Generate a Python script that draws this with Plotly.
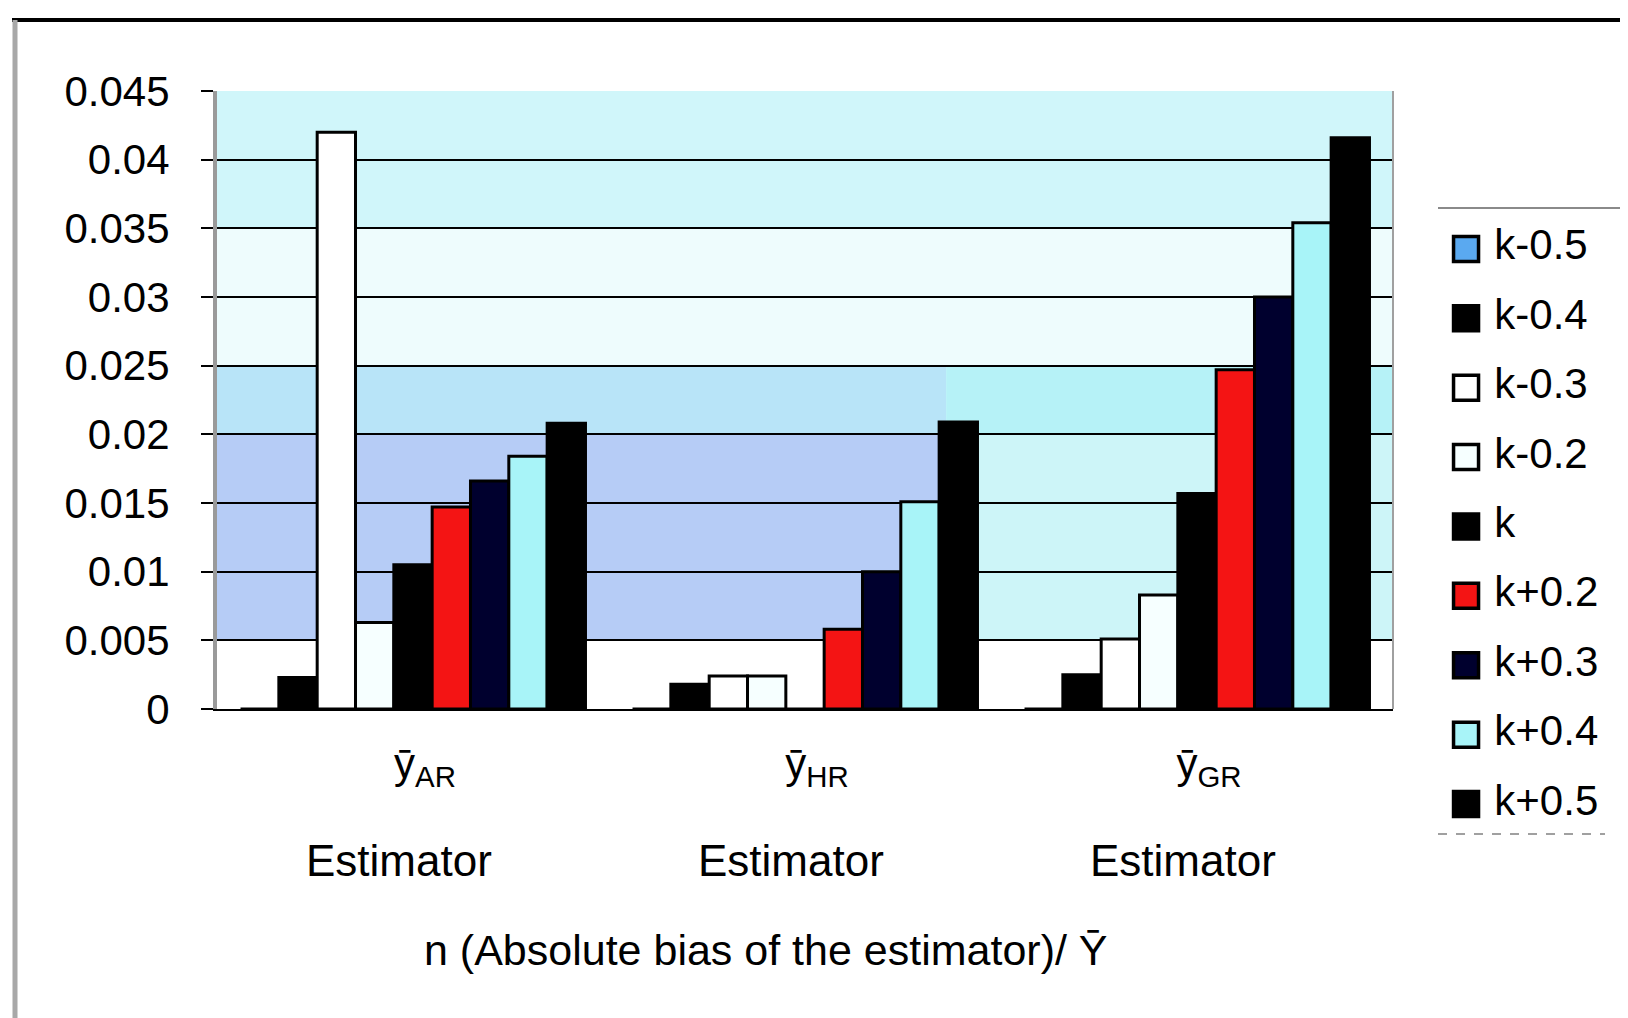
import plotly.graph_objects as go

# categories (estimators)
estimators = ["ȳ<sub>AR</sub>", "ȳ<sub>HR</sub>", "ȳ<sub>GR</sub>"]

# one list per k value (AR, HR, GR)
k_m05 = [0.0, 0.0, 0.0]
k_m04 = [0.0023, 0.0018, 0.0025]
k_m03 = [0.0420, 0.0024, 0.0051]
k_m02 = [0.0063, 0.0024, 0.0083]
k_0 = [0.0105, 0.0, 0.0157]
k_p02 = [0.0147, 0.0058, 0.0247]
k_p03 = [0.0166, 0.0100, 0.0300]
k_p04 = [0.0184, 0.0151, 0.0354]
k_p05 = [0.0208, 0.0209, 0.0416]

series_names = ["k-0.5", "k-0.4", "k-0.3", "k-0.2", "k", "k+0.2", "k+0.3", "k+0.4", "k+0.5"]
series_values = [k_m05, k_m04, k_m03, k_m02, k_0, k_p02, k_p03, k_p04, k_p05]
series_colors = ["#5aa9f0", "#000000", "#ffffff", "#f6ffff", "#000000",
                 "#f41414", "#00002e", "#a8f4f8", "#000000"]

y_ticks = [0, 0.005, 0.01, 0.015, 0.02, 0.025, 0.03, 0.035, 0.04, 0.045]
y_ticktext = ["0", "0.005", "0.01", "0.015", "0.02", "0.025", "0.03", "0.035", "0.04", "0.045"]

FONT = "Liberation Sans, Arial, sans-serif"

# page body adds 8px, so the figure is 8px smaller and everything is placed 8px up/left
W, H = 1620, 1010
ML, MR, MT, MB = 209, 12, 12, 12
PW = W - ML - MR
PH = H - MT - MB


def px(xp):
    return (xp - 8 - ML) / PW


def py(yp):
    return (H - MB - (yp - 8)) / PH


fig = go.Figure()

for name, vals, col in zip(series_names, series_values, series_colors):
    fig.add_trace(go.Bar(
        x=estimators,
        y=vals,
        name=name,
        marker=dict(color=col, line=dict(color="black", width=3)),
        showlegend=False,
    ))

# legend drawn as a marker column on its own small axis
fig.add_trace(go.Scatter(
    x=[0] * len(series_names),
    y=series_names,
    xaxis="x2",
    yaxis="y2",
    mode="markers+text",
    text=[" " + n for n in series_names],
    textposition="middle right",
    textfont=dict(family=FONT, size=42, color="black"),
    marker=dict(symbol="square", size=25, color=series_colors,
                line=dict(color="black", width=3.5)),
    showlegend=False,
    hoverinfo="skip",
    cliponaxis=False,
))

# scanned background texture, roughly
bands = [
    (0, 1, 0, 0.045, "#e6fbfc"),
    (0, 1, 0.035, 0.045, "#d0f6fa"),
    (0, 1, 0.025, 0.035, "#eefcfd"),
    (0, 0.62, 0.02, 0.025, "#b8e4f8"),
    (0.62, 1, 0.02, 0.025, "#b6f2f7"),
    (0, 0.62, 0.005, 0.02, "#b6ccf6"),
    (0.62, 1, 0.005, 0.02, "#cdf5f8"),
    (0, 1, 0, 0.005, "#ffffff"),
]
for x0, x1, y0, y1, c in bands:
    fig.add_shape(type="rect", xref="x domain", yref="y", x0=x0, x1=x1, y0=y0, y1=y1,
                  fillcolor=c, line=dict(width=0), layer="below")

# right edge of plot area
fig.add_shape(type="line", xref="x domain", yref="y domain", x0=1, x1=1, y0=0, y1=1,
              line=dict(color="#a0a0a0", width=2))
# legend box top/bottom rules
fig.add_shape(type="line", xref="paper", yref="paper", x0=px(1438), x1=1.03, y0=py(208), y1=py(208),
              line=dict(color="#8a8a8a", width=2))
fig.add_shape(type="line", xref="paper", yref="paper", x0=px(1438), x1=px(1605), y0=py(834), y1=py(834),
              line=dict(color="#a0a0a0", width=2, dash="dash"))
# outer frame (top and left)
fig.add_shape(type="line", xref="paper", yref="paper", x0=px(12), x1=1.03, y0=py(20), y1=py(20),
              line=dict(color="black", width=4))
fig.add_shape(type="line", xref="paper", yref="paper", x0=px(15), x1=px(15), y0=py(20), y1=-0.05,
              line=dict(color="#a8a8a8", width=5))

for est in estimators:
    fig.add_annotation(x=est, xref="x", y=py(860), yref="paper", text="Estimator",
                       showarrow=False, xshift=-14, yanchor="middle",
                       font=dict(family=FONT, size=44, color="black"))

fig.add_annotation(x=px(766), xref="paper", y=py(950), yref="paper", yanchor="middle",
                   text="n (Absolute bias of the estimator)/ Ȳ", showarrow=False,
                   font=dict(family=FONT, size=43, color="black"))

fig.update_layout(
    width=W,
    height=H,
    margin=dict(l=ML, r=MR, t=MT, b=MB),
    paper_bgcolor="white",
    plot_bgcolor="white",
    barmode="group",
    bargap=0.12,
    bargroupgap=0,
    font=dict(family=FONT, size=42, color="black"),
    xaxis=dict(
        domain=[0, px(1393)],
        showline=True, linecolor="black", linewidth=2,
        showgrid=False, ticks="",
        ticklabelstandoff=17,
        ticklabelshift=12,
        automargin=False,
        tickfont=dict(family=FONT, size=42, color="black"),
    ),
    yaxis=dict(
        domain=[py(709), py(91)],
        range=[0, 0.045],
        tickvals=y_ticks, ticktext=y_ticktext,
        showgrid=True, gridcolor="black", gridwidth=2,
        zeroline=False,
        showline=True, linecolor="#9a9a9a", linewidth=4,
        ticks="outside", ticklen=12, tickwidth=2, tickcolor="black",
        ticklabelstandoff=23,
        automargin=False,
        tickfont=dict(family=FONT, size=42, color="black"),
    ),
    xaxis2=dict(domain=[px(1440), px(1608)], range=[-0.155, 0.845], anchor="y2",
                visible=False),
    yaxis2=dict(domain=[py(838), py(212)], type="category", categoryarray=series_names,
                range=[8.49, -0.533], anchor="x2", visible=False),
)

fig.write_html("out.html")
